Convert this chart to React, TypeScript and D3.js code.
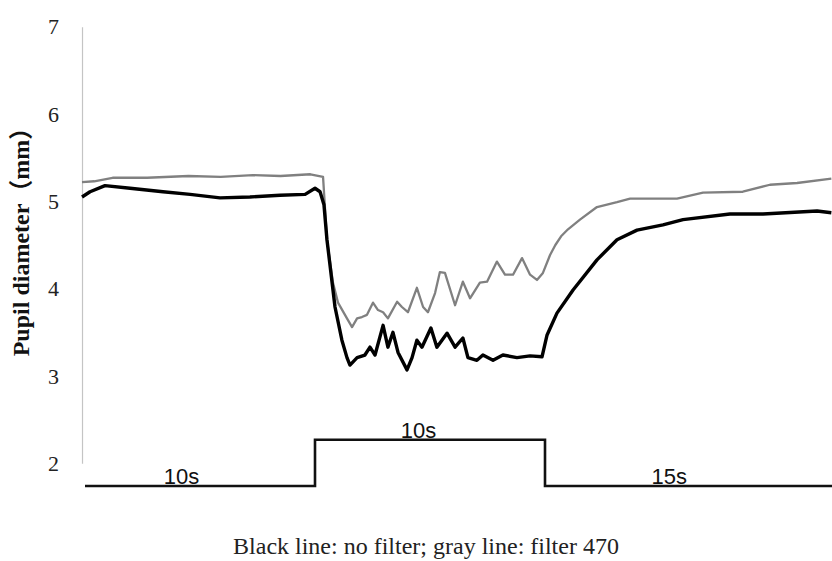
import React from 'react'
import * as d3 from 'd3'

// time in seconds, pupil diameter in mm
const grayTime = [-0.13, 0.4, 1.2, 2.7, 4.5, 5.9, 7.3, 8.5, 9.8, 10.35, 10.52, 10.78, 11.0, 11.39, 11.61, 11.83, 12.04, 12.26, 12.52, 12.74, 12.96, 13.17, 13.57, 13.78, 14.04, 14.43, 14.7, 14.91, 15.22, 15.43, 15.65, 16.09, 16.43, 16.74, 17.17, 17.48, 17.91, 18.26, 18.61, 19.0, 19.35, 19.65, 19.91, 20.22, 20.45, 20.7, 21.0, 21.52, 22.26, 23.13, 23.7, 25.74, 26.87, 28.6, 29.78, 30.96, 32.45]
const grayDiameter = [5.22, 5.23, 5.27, 5.27, 5.29, 5.28, 5.3, 5.29, 5.31, 5.28, 4.56, 4.07, 3.84, 3.66, 3.56, 3.66, 3.675, 3.7, 3.84, 3.755, 3.73, 3.66, 3.85, 3.79, 3.73, 4.01, 3.79, 3.73, 3.95, 4.19, 4.18, 3.81, 4.08, 3.89, 4.07, 4.08, 4.31, 4.16, 4.16, 4.35, 4.16, 4.1, 4.18, 4.385, 4.5, 4.6, 4.68, 4.79, 4.935, 4.99, 5.03, 5.03, 5.1, 5.11, 5.19, 5.21, 5.26]

const blackTime = [-0.13, 0.22, 0.87, 1.96, 3.39, 4.57, 5.87, 7.17, 8.48, 9.57, 10.0, 10.22, 10.39, 10.52, 10.87, 11.17, 11.39, 11.52, 11.83, 12.17, 12.39, 12.61, 12.96, 13.17, 13.39, 13.61, 14.0, 14.22, 14.43, 14.65, 15.04, 15.3, 15.74, 16.09, 16.43, 16.65, 17.04, 17.3, 17.74, 18.17, 18.78, 19.35, 19.87, 20.09, 20.52, 21.22, 22.26, 23.13, 24.0, 25.13, 26.0, 28.04, 29.48, 31.83, 32.45]
const blackDiameter = [5.05, 5.11, 5.18, 5.15, 5.11, 5.08, 5.04, 5.05, 5.07, 5.08, 5.15, 5.11, 4.96, 4.56, 3.79, 3.41, 3.21, 3.125, 3.21, 3.24, 3.33, 3.24, 3.58, 3.33, 3.5, 3.27, 3.07, 3.21, 3.41, 3.33, 3.55, 3.33, 3.49, 3.33, 3.435, 3.21, 3.18, 3.24, 3.18, 3.24, 3.21, 3.23, 3.22, 3.47, 3.72, 3.985, 4.33, 4.56, 4.67, 4.73, 4.79, 4.855, 4.855, 4.89, 4.87]

// light stimulus: off 10 s, on 10 s, off 15 s
const stimTime = [0, 10, 10, 20, 20, 32.5]
const stimLevel = [1.74, 1.74, 2.27, 2.27, 1.74, 1.74]
const stimLabels = ['10s', '10s', '15s']
const stimLabelTime = [4.2, 14.5, 25.4]
const stimLabelLevel = [1.74, 2.27, 1.74]

const yTicks = [2, 3, 4, 5, 6, 7]
const yTitle = 'Pupil diameter（mm）'
const caption = 'Black line: no filter; gray line: filter 470'

const App = () => {
    const svgRef = React.useRef<SVGSVGElement>(null)

    React.useEffect(() => {
        const svg = d3.select(svgRef.current)
        svg.selectAll('*').remove()

        const xScale = d3.scaleLinear().domain([0, 32.5]).range([85, 832.5])
        const yScale = d3.scaleLinear().domain([2, 7]).range([463.3, 26.7])

        // y axis: thin light line, serif numbers well to the left
        const yAxis = svg
            .append('g')
            .attr('transform', 'translate(' + xScale(-0.13) + ',0)')
            .call(d3.axisLeft(yScale).tickValues(yTicks).tickSize(0).tickPadding(23).tickFormat(d3.format('d')))
        yAxis.select('.domain').attr('stroke', '#c4c4c4').attr('stroke-width', 1.2)
        yAxis
            .selectAll('text')
            .attr('font-family', '"Liberation Serif", serif')
            .attr('font-size', 22)
            .attr('fill', '#222')

        svg.append('text')
            .attr('transform', 'translate(29,236) rotate(-90)')
            .attr('text-anchor', 'middle')
            .attr('font-family', '"Liberation Serif", "Noto Sans CJK SC", serif')
            .attr('font-weight', 'bold')
            .attr('font-size', 24)
            .attr('fill', '#111')
            .text(yTitle)

        const trace = d3
            .line<[number, number]>()
            .x((d) => xScale(d[0]))
            .y((d) => yScale(d[1]))

        const grayData = grayTime.map((t, i) => [t, grayDiameter[i]] as [number, number])
        const blackData = blackTime.map((t, i) => [t, blackDiameter[i]] as [number, number])

        svg.append('path')
            .datum(grayData)
            .attr('d', trace)
            .attr('fill', 'none')
            .attr('stroke', '#808080')
            .attr('stroke-width', 2.3)
            .attr('stroke-linejoin', 'round')

        svg.append('path')
            .datum(blackData)
            .attr('d', trace)
            .attr('fill', 'none')
            .attr('stroke', '#000')
            .attr('stroke-width', 3.4)
            .attr('stroke-linejoin', 'round')

        // stimulus trace
        const stimData = stimTime.map((t, i) => [t, stimLevel[i]] as [number, number])
        svg.append('path')
            .datum(stimData)
            .attr('d', trace)
            .attr('fill', 'none')
            .attr('stroke', '#111')
            .attr('stroke-width', 2.6)

        svg.selectAll('.stim-label')
            .data(stimLabels)
            .enter()
            .append('text')
            .attr('class', 'stim-label')
            .attr('x', (d, i) => xScale(stimLabelTime[i]))
            .attr('y', (d, i) => yScale(stimLabelLevel[i]) - 2)
            .attr('text-anchor', 'middle')
            .attr('font-family', '"Liberation Sans", Arial, sans-serif')
            .attr('font-size', 22)
            .attr('fill', '#111')
            .text((d) => d)

        svg.append('text')
            .attr('x', 426)
            .attr('y', 554)
            .attr('text-anchor', 'middle')
            .attr('font-family', '"Liberation Serif", serif')
            .attr('font-size', 24)
            .attr('fill', '#222')
            .text(caption)
    }, [])

    return (
        <svg
            ref={svgRef}
            width={832}
            height={561}
            style={{ position: 'absolute', left: 0, top: 0, background: '#fff' }}
        ></svg>
    )
}

export default App
